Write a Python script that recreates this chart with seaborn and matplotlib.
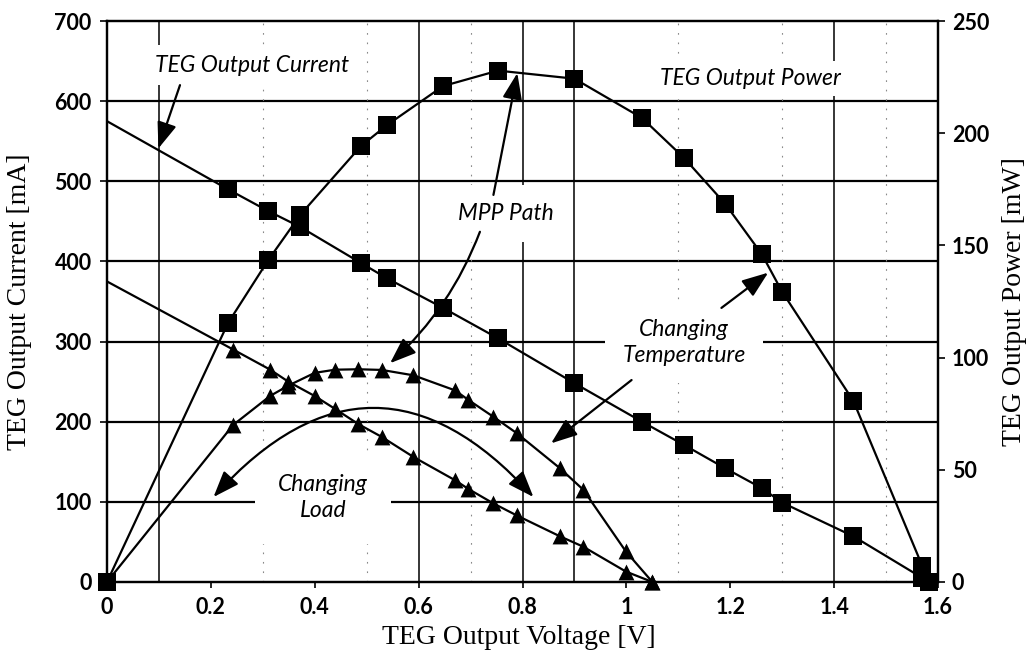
import matplotlib
matplotlib.use("Agg")
import matplotlib.pyplot as plt
import seaborn as sns

# ---------------- data ----------------
sq_v = [0.0, 0.233, 0.31, 0.372, 0.489, 0.539, 0.647, 0.753, 0.90, 1.03,
        1.111, 1.19, 1.261, 1.30, 1.437, 1.57, 1.583]
sq_current_ma = [575, 490, 463, 443, 398, 379, 342, 304, 248, 200,
                 171, 142, 117, 99, 57, 5, 0]
sq_power_mw = [0, 115.4, 143.3, 163.6, 194.3, 203.6, 221.0, 227.9, 224.3, 206.8,
               189.0, 168.6, 146.0, 129.3, 80.7, 7.0, 0]

tri_v = [0.0, 0.243, 0.314, 0.349, 0.40, 0.439, 0.484, 0.529, 0.59, 0.67,
         0.696, 0.744, 0.789, 0.872, 0.917, 0.999, 1.05]
tri_current_ma = [375, 290, 265, 250, 232, 216, 197, 181, 156, 127,
                  116, 98, 83, 57, 44, 13, 0]
tri_power_mw = [0, 70.0, 82.9, 87.5, 93.2, 94.6, 94.8, 94.5, 92.1, 85.4,
                81.1, 73.6, 66.3, 50.7, 41.1, 13.6, 0]

x_ticks = [0, 0.2, 0.4, 0.6, 0.8, 1.0, 1.2, 1.4, 1.6]
x_tick_labels = ["0", "0.2", "0.4", "0.6", "0.8", "1", "1.2", "1.4", "1.6"]
left_ticks = [0, 100, 200, 300, 400, 500, 600, 700]
right_ticks = [0, 50, 100, 150, 200, 250]
solid_vgrid = [0.1, 0.6, 0.8, 0.9, 1.4]
faint_vgrid = [0.3, 0.5, 0.7, 1.1, 1.3, 1.5]

# ---------------- style ----------------
sns.set_theme(style="white")
plt.rcParams["font.family"] = ["Lato", "DejaVu Sans"]

fig = plt.figure(figsize=(10.31, 6.57), dpi=100)
ax = fig.add_axes([0.1038, 0.1142, 0.806, 0.8538])
ax2 = ax.twinx()

ax.set_xlim(0, 1.6)
ax.set_ylim(0, 700)
ax2.set_ylim(0, 250)

# grid
for y in left_ticks[1:-1]:
    ax.axhline(y, color="black", lw=1.6, zorder=0.5)
for xv in solid_vgrid:
    ax.axvline(xv, color="black", lw=1.1, zorder=0.5)
for xv in faint_vgrid:
    ax.axvline(xv, color="#888888", lw=0.8, ls=(0, (1.5, 7)), zorder=0.5)

# lines
lw = 1.6
sns.lineplot(x=sq_v, y=sq_current_ma, ax=ax, color="black", lw=lw,
             sort=False, estimator=None, zorder=3)
sns.lineplot(x=tri_v, y=tri_current_ma, ax=ax, color="black", lw=lw,
             sort=False, estimator=None, zorder=3)
sns.lineplot(x=sq_v, y=sq_power_mw, ax=ax2, color="black", lw=lw,
             sort=False, estimator=None, zorder=3)
sns.lineplot(x=tri_v, y=tri_power_mw, ax=ax2, color="black", lw=lw,
             sort=False, estimator=None, zorder=3)

# markers
sns.scatterplot(x=sq_v[1:], y=sq_current_ma[1:], ax=ax, marker="s", s=150,
                color="black", edgecolor="black", linewidth=0, zorder=5, clip_on=False)
sns.scatterplot(x=sq_v, y=sq_power_mw, ax=ax2, marker="s", s=150,
                color="black", edgecolor="black", linewidth=0, zorder=5, clip_on=False)
sns.scatterplot(x=tri_v[1:], y=tri_current_ma[1:], ax=ax, marker="^", s=130,
                color="black", edgecolor="black", linewidth=0, zorder=5, clip_on=False)
sns.scatterplot(x=tri_v[1:], y=tri_power_mw[1:], ax=ax2, marker="^", s=130,
                color="black", edgecolor="black", linewidth=0, zorder=5, clip_on=False)

# spines / ticks
for a in (ax, ax2):
    for sp in a.spines.values():
        sp.set_color("black")
        sp.set_linewidth(1.6)
ax.set_xticks(x_ticks)
ax.set_xticklabels(x_tick_labels)
ax.set_yticks(left_ticks)
ax2.set_yticks(right_ticks)
for lab in ax.get_xticklabels() + ax.get_yticklabels() + ax2.get_yticklabels():
    lab.set_fontfamily("Lato")
    lab.set_fontweight("bold")
    lab.set_fontsize(15.5)
    lab.set_color("black")
ax.tick_params(axis="x", direction="out", length=4, width=1.2, pad=7, colors="black", bottom=True)
ax.tick_params(axis="y", direction="out", length=5, width=1.2, pad=6, colors="black", left=True)
ax2.tick_params(axis="y", direction="out", length=5, width=1.2, pad=5, colors="black", right=True)

label_font = dict(family="Liberation Serif", size=20, color="black")
ax.set_xlabel("TEG Output Voltage [V]", **label_font)
ax.set_ylabel("TEG Output Current [mA]", **label_font)
ax2.set_ylabel("TEG Output Power [mW]", **label_font)
ax.xaxis.set_label_coords(0.496, -0.076)
ax.yaxis.set_label_coords(-0.090, 0.5)
ax2.yaxis.set_label_coords(1.0766, 0.5)

# annotation texts
ann = dict(family="Lato", style="italic", size=16.5, color="black",
           ha="center", va="center", zorder=2)
def box(p):
    return dict(boxstyle=f"square,pad={p}", fc="white", ec="none")

ax.text(0.279, 645, "TEG Output Current", bbox=box(0.4), **ann)
ax.text(1.238, 628, "TEG Output Power", bbox=box(0.3), **ann)
ax.text(0.768, 460, "MPP Path", bbox=box(0.8), **ann)
ax.text(1.111, 299, "Changing\nTemperature", linespacing=1.3, bbox=box(0.75), **ann)
ax.text(0.416, 105, "Changing\nLoad", linespacing=1.3, bbox=box(1.0), **ann)

# arrows
def arrow(tail, tip, rad=0.0, style="-|>"):
    ax.annotate("", xy=tip, xytext=tail,
                arrowprops=dict(arrowstyle=f"{style},head_length=0.8,head_width=0.3",
                                color="black", lw=1.6, shrinkA=0, shrinkB=0,
                                mutation_scale=20,
                                connectionstyle=f"arc3,rad={rad}"),
                zorder=6)

arrow((0.1405, 620), (0.0989, 541))
arrow((0.744, 483), (0.79, 635))
arrow((0.718, 437), (0.545, 273), rad=-0.12)
arrow((1.183, 342), (1.273, 386))
arrow((1.010, 252), (0.855, 173))
arrow((0.205, 106), (0.821, 106), rad=-0.55, style="<|-|>")

fig.savefig("out.png", dpi=100, facecolor="white")
